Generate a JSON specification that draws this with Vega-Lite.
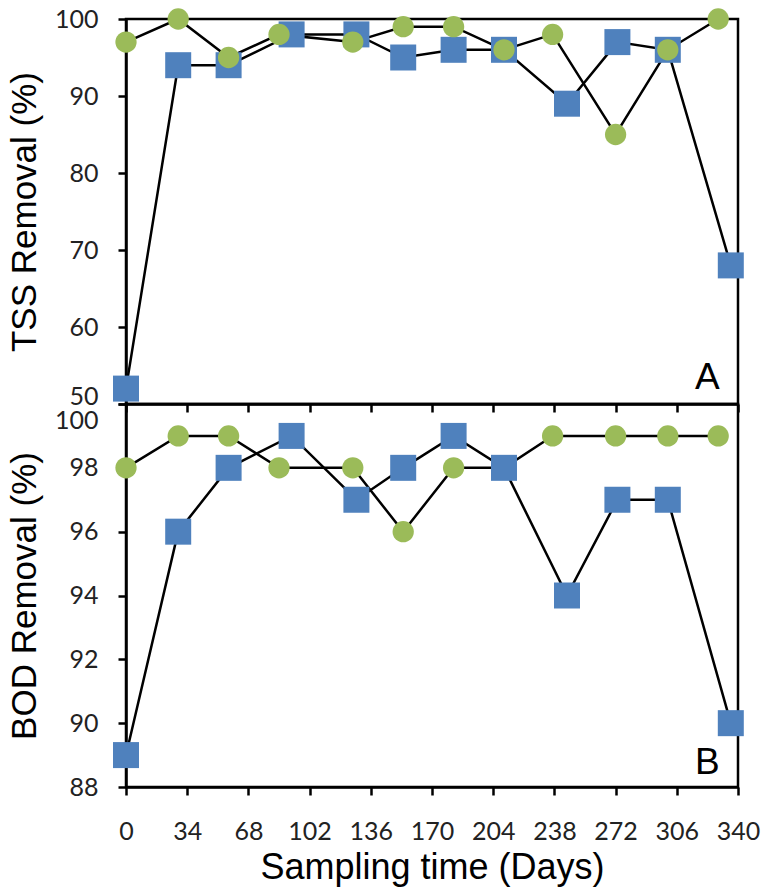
{
  "$schema": "https://vega.github.io/schema/vega-lite/v6.json",
  "padding": {"left": 6, "top": 5, "right": 5, "bottom": 5},
  "spacing": 0,
  "bounds": "flush",
  "config": {
    "view": {"stroke": "black", "strokeWidth": 2.5},
    "axis": {
      "domainColor": "black", "domainWidth": 2.5,
      "tickColor": "black", "tickWidth": 2.5, "tickSize": 8,
      "grid": false, "labelOverlap": false,
      "labelFont": "Lato", "labelFontSize": 25, "labelColor": "#222222",
      "titleFont": "Liberation Sans", "titleFontSize": 35, "titleFontWeight": "normal", "titleColor": "black"
    }
  },
  "datasets": {
    "tss": [
      {"series": "Series1", "day": 0, "value": 52},
      {"series": "Series1", "day": 29, "value": 94},
      {"series": "Series1", "day": 57, "value": 94},
      {"series": "Series1", "day": 92, "value": 98},
      {"series": "Series1", "day": 128, "value": 98},
      {"series": "Series1", "day": 154, "value": 95},
      {"series": "Series1", "day": 182, "value": 96},
      {"series": "Series1", "day": 210, "value": 96},
      {"series": "Series1", "day": 245, "value": 89},
      {"series": "Series1", "day": 273, "value": 97},
      {"series": "Series1", "day": 301, "value": 96},
      {"series": "Series1", "day": 336, "value": 68},
      {"series": "Series2", "day": 0, "value": 97},
      {"series": "Series2", "day": 29, "value": 100},
      {"series": "Series2", "day": 57, "value": 95},
      {"series": "Series2", "day": 85, "value": 98},
      {"series": "Series2", "day": 126, "value": 97},
      {"series": "Series2", "day": 154, "value": 99},
      {"series": "Series2", "day": 182, "value": 99},
      {"series": "Series2", "day": 210, "value": 96},
      {"series": "Series2", "day": 237, "value": 98},
      {"series": "Series2", "day": 272, "value": 85},
      {"series": "Series2", "day": 301, "value": 96},
      {"series": "Series2", "day": 329, "value": 100}
    ],
    "bod": [
      {"series": "Series2", "day": 0, "value": 98},
      {"series": "Series2", "day": 29, "value": 99},
      {"series": "Series2", "day": 57, "value": 99},
      {"series": "Series2", "day": 85, "value": 98},
      {"series": "Series2", "day": 126, "value": 98},
      {"series": "Series2", "day": 154, "value": 96},
      {"series": "Series2", "day": 182, "value": 98},
      {"series": "Series2", "day": 210, "value": 98},
      {"series": "Series2", "day": 237, "value": 99},
      {"series": "Series2", "day": 272, "value": 99},
      {"series": "Series2", "day": 301, "value": 99},
      {"series": "Series2", "day": 329, "value": 99},
      {"series": "Series1", "day": 0, "value": 89},
      {"series": "Series1", "day": 29, "value": 96},
      {"series": "Series1", "day": 57, "value": 98},
      {"series": "Series1", "day": 92, "value": 99},
      {"series": "Series1", "day": 128, "value": 97},
      {"series": "Series1", "day": 154, "value": 98},
      {"series": "Series1", "day": 182, "value": 99},
      {"series": "Series1", "day": 210, "value": 98},
      {"series": "Series1", "day": 245, "value": 94},
      {"series": "Series1", "day": 273, "value": 97},
      {"series": "Series1", "day": 301, "value": 97},
      {"series": "Series1", "day": 336, "value": 90}
    ],
    "labelA": [{"label": "A", "day": 323, "value": 52}],
    "labelB": [{"label": "B", "day": 323, "value": 88.4}]
  },
  "vconcat": [
    {
      "width": 612,
      "height": 385,
      "encoding": {
        "x": {"field": "day", "type": "quantitative", "scale": {"domain": [0, 340]},
              "axis": {"values": [0, 34, 68, 102, 136, 170, 204, 238, 272, 306, 340], "labels": false, "title": null}},
        "y": {"field": "value", "type": "quantitative", "scale": {"domain": [50, 100]},
              "axis": {"values": [50, 60, 70, 80, 90, 100], "title": "TSS Removal (%)", "labelPadding": 20, "titlePadding": 12, "labelFlush": false,
                       "labelOffset": {"condition": {"test": "datum.value == 50", "value": -8}, "value": 0}}}
      },
      "layer": [
        {
          "data": {"name": "tss"},
          "mark": {"type": "line", "color": "black", "strokeWidth": 2.5},
          "encoding": {"detail": {"field": "series"}}
        },
        {
          "data": {"name": "tss"},
          "mark": {"type": "point", "filled": true, "opacity": 1, "strokeWidth": 0},
          "encoding": {
            "shape": {"field": "series", "scale": {"domain": ["Series1", "Series2"], "range": ["square", "circle"]}, "legend": null},
            "size": {"field": "series", "type": "nominal", "scale": {"domain": ["Series1", "Series2"], "range": [676, 452]}, "legend": null},
            "color": {"field": "series", "scale": {"domain": ["Series1", "Series2"], "range": ["#4F81BD", "#9BBB59"]}, "legend": null}
          }
        },
        {
          "data": {"name": "labelA"},
          "mark": {"type": "text", "font": "Liberation Sans", "fontSize": 37, "baseline": "alphabetic", "align": "center", "color": "black"},
          "encoding": {"text": {"field": "label"}}
        }
      ]
    },
    {
      "width": 612,
      "height": 383,
      "encoding": {
        "x": {"field": "day", "type": "quantitative", "scale": {"domain": [0, 340]},
              "axis": {"values": [0, 34, 68, 102, 136, 170, 204, 238, 272, 306, 340], "title": "Sampling time (Days)", "labelPadding": 24, "titlePadding": 6, "labelFlush": false, "titleFontSize": 36}},
        "y": {"field": "value", "type": "quantitative", "scale": {"domain": [88, 100]},
              "axis": {"values": [88, 90, 92, 94, 96, 98, 100], "title": "BOD Removal (%)", "labelPadding": 20, "titlePadding": 12, "labelFlush": false,
                       "labelOffset": {"condition": {"test": "datum.value == 100", "value": 16}, "value": 0}}}
      },
      "layer": [
        {
          "data": {"name": "bod"},
          "mark": {"type": "line", "color": "black", "strokeWidth": 2.5},
          "encoding": {"detail": {"field": "series"}}
        },
        {
          "data": {"name": "bod"},
          "mark": {"type": "point", "filled": true, "opacity": 1, "strokeWidth": 0},
          "encoding": {
            "shape": {"field": "series", "scale": {"domain": ["Series1", "Series2"], "range": ["square", "circle"]}, "legend": null},
            "size": {"field": "series", "type": "nominal", "scale": {"domain": ["Series1", "Series2"], "range": [676, 452]}, "legend": null},
            "color": {"field": "series", "scale": {"domain": ["Series1", "Series2"], "range": ["#4F81BD", "#9BBB59"]}, "legend": null}
          }
        },
        {
          "data": {"name": "labelB"},
          "mark": {"type": "text", "font": "Liberation Sans", "fontSize": 37, "baseline": "alphabetic", "align": "center", "color": "black"},
          "encoding": {"text": {"field": "label"}}
        }
      ]
    }
  ]
}
